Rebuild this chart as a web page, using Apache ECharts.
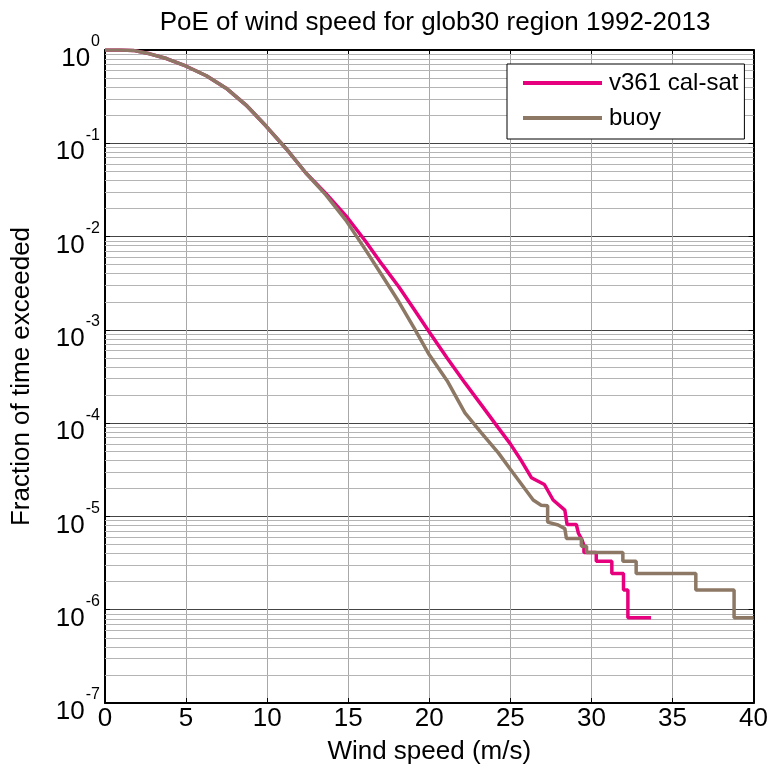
<!DOCTYPE html>
<html>
<head>
<meta charset="utf-8">
<script src="https://cdn.jsdelivr.net/npm/echarts@6/dist/echarts.min.js"></script>
<style>
    html, body {margin: 0; padding: 0; background: #fff;}
    #chart {width: 771px; height: 779px;}
</style>
</head>
<body>
<div id="chart"></div>
<script>
    // v361 cal-sat (pink)
    const satSpeed = [0, 1, 1.74, 2.76, 3.79, 5.01, 6.25, 7.47, 8.7, 9.93, 11.16, 12.39, 13.62, 14.85,
        16.07, 17.1, 18.12, 19.06, 20, 21.1, 22.2, 23.2, 24.26, 25, 25.7, 26.3, 27.1, 27.64, 28.36,
        28.5, 29.07, 29.2, 29.4, 29.54, 29.54, 30.3, 30.3, 31.26, 31.26, 31.98, 31.98, 32.25, 32.25, 33.68]
    const satPoe = [1, 0.998, 0.99, 0.91, 0.81, 0.67, 0.53, 0.39, 0.257, 0.153, 0.088, 0.048, 0.029, 0.0168,
        8.9e-3, 5.0e-3, 2.9e-3, 1.66e-3, 9.5e-4, 5.0e-4, 2.7e-4, 1.58e-4, 8.9e-5, 6.0e-5, 3.9e-5, 2.6e-5, 2.2e-5, 1.5e-5, 1.17e-5,
        8.2e-6, 8.2e-6, 6.6e-6, 5.7e-6, 4.9e-6, 4.1e-6, 4.1e-6, 3.3e-6, 3.3e-6, 2.45e-6, 2.45e-6, 1.63e-6, 1.63e-6, 8.2e-7, 8.2e-7]

    // buoy (brown)
    const buoySpeed = [0, 1, 1.74, 2.76, 3.79, 5.01, 6.25, 7.47, 8.7, 9.93, 11.16, 12.39, 13.62, 14.85,
        16.07, 17.1, 18.12, 19.06, 20, 21.1, 22.2, 23.2, 24.26, 25, 25.7, 26.41, 26.9, 27.3, 27.3, 27.95,
        28.36, 28.46, 29.38, 29.38, 29.7, 29.7, 31.94, 31.94, 32.76, 32.76, 36.44, 36.44, 38.8, 38.8, 40]
    const buoyPoe = [1, 0.998, 0.99, 0.91, 0.81, 0.67, 0.53, 0.39, 0.257, 0.153, 0.088, 0.048, 0.028, 0.015,
        7.2e-3, 3.8e-3, 2.0e-3, 1.05e-3, 5.4e-4, 2.85e-4, 1.29e-4, 7.9e-5, 4.8e-5, 3.2e-5, 2.2e-5, 1.5e-5, 1.32e-5, 1.3e-5, 8.7e-6, 8.1e-6,
        7.4e-6, 5.8e-6, 5.8e-6, 4.8e-6, 4.8e-6, 4.1e-6, 4.1e-6, 3.3e-6, 3.3e-6, 2.45e-6, 2.45e-6, 1.63e-6, 1.63e-6, 8.2e-7, 8.2e-7]

    const seriesNames = ['v361 cal-sat', 'buoy']
    const decades = [-7, -6, -5, -4, -3, -2, -1]
    const xMin = 0, xMax = 40

    const FONT = '"Liberation Sans", Arial, sans-serif'

    //细的对数网格线 2..9 x 10^k
    const minorLines = []
    decades.forEach(k => {
        for (let m = 2; m <= 9; m++) {
            const v = m * Math.pow(10, k)
            minorLines.push([{coord: [xMin, v]}, {coord: [xMax, v]}])
        }
    })

    const zip = (xs, ys) => xs.map((x, i) => [x, ys[i]])

    const chart = echarts.init(document.getElementById('chart'))
    const option = {
        backgroundColor: '#fff',
        animation: false,
        textStyle: {fontFamily: FONT},
        title: {
            text: 'PoE of wind speed for glob30 region 1992-2013',
            left: 430,
            textAlign: 'center',
            top: 5,
            textStyle: {fontFamily: FONT, fontSize: 26, fontWeight: 'normal', color: '#000'}
        },
        grid: {left: 105, right: 15, top: 50, bottom: 76},
        legend: {
            data: seriesNames,
            orient: 'vertical',
            left: 507,
            top: 64,
            padding: [7, 6, 9, 16],
            itemGap: 11,
            itemWidth: 79,
            itemHeight: 4,
            icon: 'rect',
            backgroundColor: '#fff',
            borderColor: '#000',
            borderWidth: 1,
            textStyle: {fontFamily: FONT, fontSize: 24, color: '#000', padding: [0, 0, 0, 2]}
        },
        xAxis: [
            {
                type: 'value', min: xMin, max: xMax, interval: 5,
                name: 'Wind speed (m/s)', nameLocation: 'middle', nameGap: 36,
                nameTextStyle: {fontFamily: FONT, fontSize: 26, color: '#000'},
                axisLine: {onZero: false, lineStyle: {color: '#000', width: 2}},
                axisTick: {inside: true, length: 5, lineStyle: {color: '#000'}},
                axisLabel: {fontFamily: FONT, fontSize: 26, color: '#000', margin: 3},
                splitLine: {show: true, lineStyle: {color: '#a8a8a8', width: 1}}
            },
            {
                type: 'value', min: xMin, max: xMax, interval: 5, position: 'top',
                axisLine: {onZero: false, lineStyle: {color: '#000', width: 2}},
                axisTick: {inside: true, length: 5, lineStyle: {color: '#000'}},
                axisLabel: {show: false},
                splitLine: {show: false}
            }
        ],
        yAxis: [
            {
                type: 'log', logBase: 10, min: 1e-7, max: 1,
                name: 'Fraction of time exceeded', nameLocation: 'middle', nameGap: 70,
                nameTextStyle: {fontFamily: FONT, fontSize: 26, color: '#000'},
                axisLine: {onZero: false, lineStyle: {color: '#000', width: 2}},
                axisTick: {inside: true, length: 5, lineStyle: {color: '#000'}},
                axisLabel: {
                    margin: 5,
                    padding: [18, 0, 0, 0],
                    formatter: v => '{b|10}{s|' + Math.round(Math.log10(v)) + '}',
                    rich: {
                        b: {fontFamily: FONT, fontSize: 26, color: '#000'},
                        s: {fontFamily: FONT, fontSize: 16, color: '#000', padding: [0, 0, 34, 1]}
                    }
                },
                splitLine: {show: true, lineStyle: {color: '#444', width: 1}}
            },
            {
                type: 'log', logBase: 10, min: 1e-7, max: 1, position: 'right',
                axisLine: {onZero: false, lineStyle: {color: '#000', width: 2}},
                axisTick: {inside: true, length: 5, lineStyle: {color: '#000'}},
                axisLabel: {show: false},
                splitLine: {show: false}
            }
        ],
        series: [
            {
                type: 'line',
                name: 'grid',
                data: [],
                z: 1,
                silent: true,
                markLine: {
                    silent: true,
                    z: 1,
                    symbol: ['none', 'none'],
                    label: {show: false},
                    lineStyle: {color: '#b4b4b4', width: 1, type: 'solid'},
                    data: minorLines
                }
            },
            {
                type: 'line',
                name: seriesNames[0],
                data: zip(satSpeed, satPoe),
                showSymbol: false,
                symbol: 'none',
                z: 10,
                color: '#e6007e',
                lineStyle: {color: '#e6007e', width: 3.5}
            },
            {
                type: 'line',
                name: seriesNames[1],
                data: zip(buoySpeed, buoyPoe),
                showSymbol: false,
                symbol: 'none',
                z: 11,
                color: '#8c7864',
                lineStyle: {color: '#8c7864', width: 3.5}
            }
        ]
    }
    chart.setOption(option)
</script>
</body>
</html>
